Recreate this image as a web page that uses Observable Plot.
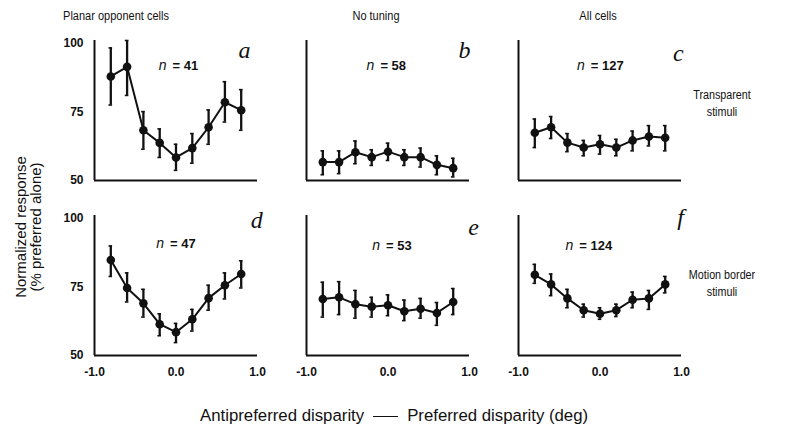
<!DOCTYPE html>
<html>
<head>
<meta charset="utf-8">
<script src="https://cdn.jsdelivr.net/npm/d3@7"></script>
<script src="https://cdn.jsdelivr.net/npm/@observablehq/plot@0.6"></script>
<style>
  html, body { margin: 0; padding: 0; background: #fff; }
  #wrap { position: relative; width: 790px; height: 437px; overflow: hidden; font-family: "Liberation Sans", Arial, sans-serif; color: #111; }
  #chart { position: absolute; left: 0; top: 0; }
  .coltitle { position: absolute; top: 9px; width: 200px; text-align: center; font-size: 12.5px; transform: scaleX(0.88); }
  .rowtitle { position: absolute; width: 100px; text-align: center; font-size: 12.5px; line-height: 17px; white-space: pre-line; transform: scaleX(0.86); }
  #ylabel { position: absolute; left: 28px; top: 227px; transform: translate(-50%, -50%) rotate(-90deg); text-align: center; font-size: 15px; line-height: 15px; white-space: nowrap; }
  #caption { position: absolute; left: 200px; top: 406px; font-size: 16.8px; white-space: nowrap; }
  #caption .dash { display: inline-block; width: 25px; height: 0; border-top: 1.3px solid #111; vertical-align: middle; margin: 0 9px; }
</style>
</head>
<body>
<div id="wrap">
  <div id="chart"></div>
</div>
<script>
// ---- data ----
const disparities = [-0.8, -0.6, -0.4, -0.2, 0.0, 0.2, 0.4, 0.6, 0.8];
const panelLetters = ["a", "b", "c", "d", "e", "f"];
const columnTitles = ["Planar opponent cells", "No tuning", "All cells"];
const rowTitles = ["Transparent\nstimuli", "Motion border\nstimuli"];
const nCells = [41, 58, 127, 47, 53, 124];
const xTickValues = [-1, 0, 1];
const yTickValues = [50, 75, 100];
const captionLeft = "Antipreferred disparity";
const captionRight = "Preferred disparity (deg)";

// Panel a: planar opponent, transparent
const meanA = [87.9, 91.4, 68.3, 63.7, 58.4, 61.8, 69.4, 78.5, 75.6];
const loA   = [77.5, 81.0, 61.4, 58.4, 53.7, 56.3, 63.2, 71.3, 68.3];
const hiA   = [98.3, 101.0, 75.1, 68.8, 63.2, 67.1, 75.7, 86.0, 83.1];
// Panel b: no tuning, transparent
const meanB = [56.7, 56.7, 60.3, 58.5, 60.5, 58.5, 58.5, 55.7, 54.5];
const loB   = [52.1, 52.5, 56.1, 55.5, 57.3, 55.5, 54.9, 52.1, 51.3];
const hiB   = [60.8, 60.8, 64.4, 61.2, 63.6, 61.2, 61.8, 59.0, 58.1];
// Panel c: all cells, transparent
const meanC = [67.4, 69.4, 63.8, 62.0, 63.2, 62.0, 64.6, 66.0, 65.6];
const loC   = [62.0, 65.3, 60.5, 59.0, 59.6, 59.0, 60.8, 62.6, 60.8];
const hiC   = [72.4, 73.3, 67.1, 64.6, 66.4, 65.0, 68.0, 70.0, 70.0];
// Panel d: planar opponent, motion border
const meanD = [84.8, 74.6, 69.0, 61.4, 58.5, 63.2, 70.9, 75.6, 79.7];
const loD   = [78.8, 69.5, 64.0, 57.2, 54.7, 58.9, 66.5, 70.6, 74.6];
const hiD   = [89.9, 80.1, 74.1, 65.2, 61.7, 66.8, 75.6, 80.1, 84.5];
// Panel e: no tuning, motion border
const meanE = [70.6, 71.2, 68.7, 67.8, 68.3, 66.1, 67.0, 65.5, 69.5];
const loE   = [64.0, 64.9, 63.6, 64.0, 64.5, 62.7, 63.6, 61.0, 64.9];
const hiE   = [76.7, 76.9, 73.7, 71.2, 72.1, 70.2, 70.8, 69.3, 74.4];
// Panel f: all cells, motion border
const meanF = [79.4, 75.9, 70.8, 66.5, 65.2, 66.5, 70.3, 70.8, 75.9];
const loF   = [76.3, 71.8, 67.4, 64.0, 63.2, 64.2, 67.4, 66.8, 72.8];
const hiF   = [83.2, 79.7, 74.1, 68.7, 67.4, 68.7, 73.1, 73.7, 78.8];

const means = [meanA, meanB, meanC, meanD, meanE, meanF];
const lows  = [loA, loB, loC, loD, loE, loF];
const highs = [hiA, hiB, hiC, hiD, hiE, hiF];

// ---- build tables ----
const panels = panelLetters.map((p, i) => ({ i, panel: p, col: i % 3, row: Math.floor(i / 3), n: nCells[i] }));
const points = panels.flatMap(p => disparities.map((x, j) => ({
  ...p, x, y: means[p.i][j], lo: lows[p.i][j], hi: highs[p.i][j]
})));

// annotation placement (layout, not data)
const nAnchorX = [-0.08, -0.13, -0.15, -0.11, -0.06, -0.29];
const nAnchorY = [91.9, 91.9, 91.9, 90.8, 90.1, 90.1];
const letterX  = [0.84, 0.94, 0.96, 0.99, 1.05, 0.99];
const letterY  = [97.5, 97.5, 96.5, 99.1, 96.6, 100.4];

const capHalf = 0.022;
const F = { fx: "col", fy: "row" };

const chart = Plot.plot({
  width: 790,
  height: 392,
  marginLeft: 93,
  marginRight: 109,
  marginTop: 40,
  marginBottom: 37,
  style: { fontFamily: "'Liberation Sans', Arial, sans-serif", fontSize: "12px", color: "#111", background: "white" },
  fx: { domain: [0, 1, 2], paddingInner: 0.233, paddingOuter: 0, axis: null },
  fy: { domain: [0, 1], paddingInner: 0.2, paddingOuter: 0, axis: null },
  x: { domain: [-1, 1], ticks: xTickValues, tickFormat: d => d.toFixed(1), tickSize: 0, tickPadding: 12, label: null },
  y: { domain: [50, 101], ticks: yTickValues, tickSize: 0, tickPadding: 11, label: null },
  marks: [
    // axis lines
    Plot.ruleY(panels, { ...F, y: () => 50, x1: () => -1, x2: () => 1, strokeWidth: 2, stroke: "#111" }),
    Plot.ruleX(panels, { ...F, x: () => -1, y1: () => 50, y2: () => 101, strokeWidth: 2, stroke: "#111" }),
    // error bars
    Plot.ruleX(points, { ...F, x: "x", y1: "lo", y2: "hi", strokeWidth: 2.3, stroke: "#111" }),
    Plot.ruleY(points, { ...F, y: "hi", x1: d => d.x - capHalf, x2: d => d.x + capHalf, strokeWidth: 1.6, stroke: "#111" }),
    Plot.ruleY(points, { ...F, y: "lo", x1: d => d.x - capHalf, x2: d => d.x + capHalf, strokeWidth: 1.6, stroke: "#111" }),
    // connecting line
    Plot.line(points, { ...F, x: "x", y: "y", z: "panel", strokeWidth: 2, stroke: "#111" }),
    Plot.dot(points, { ...F, x: "x", y: "y", r: 4.3, fill: "#111", stroke: null }),
    // n labels
    Plot.text(panels, { ...F, x: d => nAnchorX[d.i], y: d => nAnchorY[d.i], text: () => "n", textAnchor: "end", dx: -3, fontStyle: "italic", fontWeight: "normal", fontSize: 14 }),
    Plot.text(panels, { ...F, x: d => nAnchorX[d.i], y: d => nAnchorY[d.i], text: d => "= " + d.n, textAnchor: "start", dx: 3, fontWeight: "bold", fontSize: 13 }),
    // panel letters
    Plot.text(panels, { ...F, x: d => letterX[d.i], y: d => letterY[d.i], text: "panel", fontFamily: "'Liberation Serif', 'Times New Roman', serif", fontStyle: "italic", fontWeight: "normal", fontSize: 24 })
  ]
});
chart.style.fontWeight = "bold";
document.getElementById("chart").appendChild(chart);

// ---- surrounding text ----
const wrap = document.getElementById("wrap");
const colCenters = [116, 376, 598];
columnTitles.forEach((t, i) => {
  const d = document.createElement("div");
  d.className = "coltitle";
  d.textContent = t;
  d.style.left = (colCenters[i] - 100) + "px";
  wrap.appendChild(d);
});
const rowTops = [87, 267];
rowTitles.forEach((t, i) => {
  const d = document.createElement("div");
  d.className = "rowtitle";
  d.textContent = t;
  d.style.left = (722 - 50) + "px";
  d.style.top = rowTops[i] + "px";
  wrap.appendChild(d);
});
const yl = document.createElement("div");
yl.id = "ylabel";
yl.innerHTML = "Normalized response<br>(% preferred alone)";
wrap.appendChild(yl);
const cap = document.createElement("div");
cap.id = "caption";
const s1 = document.createElement("span"); s1.textContent = captionLeft;
const dash = document.createElement("span"); dash.className = "dash";
const s2 = document.createElement("span"); s2.textContent = captionRight;
cap.append(s1, dash, s2);
wrap.appendChild(cap);
</script>
</body>
</html>
